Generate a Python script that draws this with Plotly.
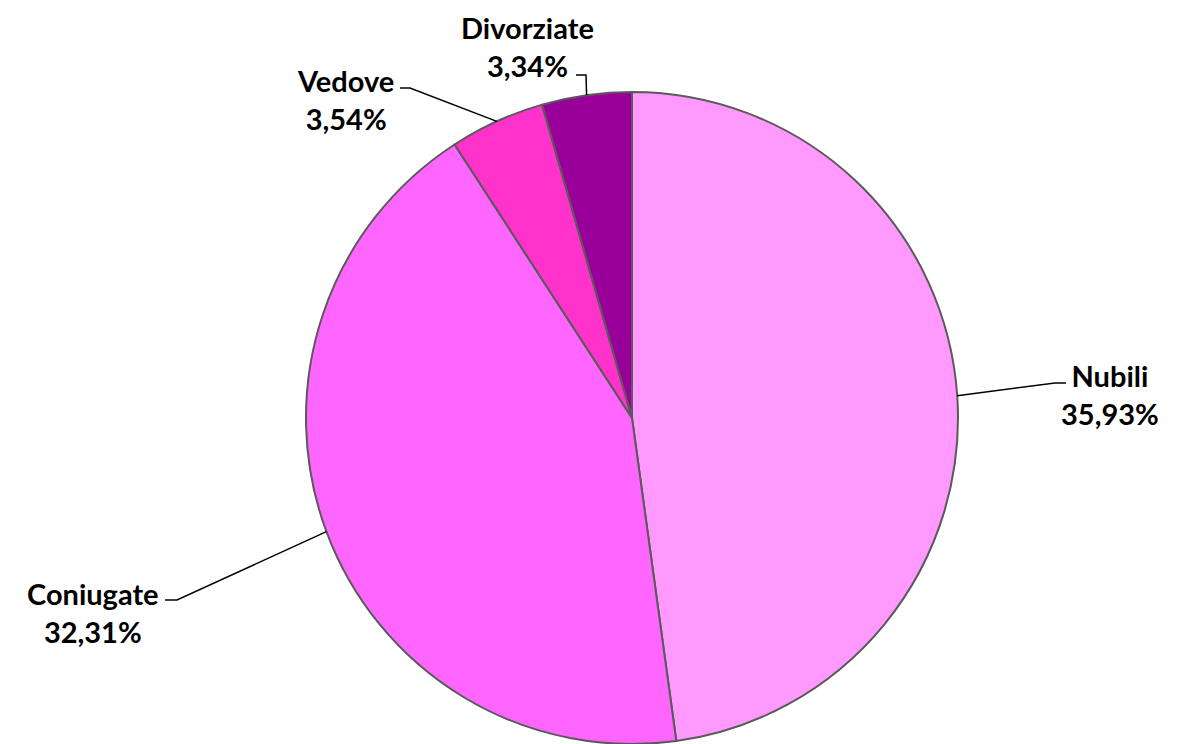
import math
import plotly.graph_objects as go

# ---- data ----
labels = ["Nubili", "Coniugate", "Vedove", "Divorziate"]
values = [35.93, 32.31, 3.54, 3.34]
value_text = ["35,93%", "32,31%", "3,54%", "3,34%"]
colors = ["#FF99FF", "#FF66FF", "#FF33CC", "#990099"]

# ---- layout constants (pixels, in the screenshot frame) ----
W, H = 1192, 744
OFF = 8  # page body margin offset
CX, CY, R = 632, 418, 326
# text centre, elbow point, end of short horizontal segment
label_pos = {
    "Nubili": dict(text=(1110, 394), elbow=(1055, 383), end=(1066, 383)),
    "Coniugate": dict(text=(93, 612), elbow=(177, 600), end=(165, 600)),
    "Vedove": dict(text=(345, 99), elbow=(410, 88), end=(400, 88)),
    "Divorziate": dict(text=(527, 47), elbow=(586, 75), end=(576, 75)),
}

def px(x):
    return (x - OFF) / W

def py(y):
    return 1 - (y - OFF) / H

fig = go.Figure(go.Pie(
    labels=labels,
    values=values,
    sort=False,
    direction="clockwise",
    rotation=0,
    textinfo="none",
    hoverinfo="label+text",
    text=value_text,
    marker=dict(colors=colors, line=dict(color="#5a5a5a", width=2)),
    domain=dict(x=[px(CX - R), px(CX + R)], y=[max(0, py(CY + R)), py(CY - R)]),
    showlegend=False,
))

total = sum(values)
cum = 0.0
shapes = []
annotations = []
for lab, v, t in zip(labels, values, value_text):
    mid = (cum + v / 2) / total * 2 * math.pi
    cum += v
    ex = CX + R * math.sin(mid)
    ey = CY - R * math.cos(mid)
    lp = label_pos[lab]
    path = "M {:.5f},{:.5f} L {:.5f},{:.5f} L {:.5f},{:.5f}".format(
        px(ex), py(ey), px(lp["elbow"][0]), py(lp["elbow"][1]),
        px(lp["end"][0]), py(lp["end"][1]))
    shapes.append(dict(type="path", path=path, xref="paper", yref="paper",
                       line=dict(color="black", width=1.5)))
    annotations.append(dict(
        x=px(lp["text"][0]), y=py(lp["text"][1]), xref="paper", yref="paper",
        text="<b>{}</b><br><b>{}</b>".format(lab, t), showarrow=False,
        xanchor="center", yanchor="middle", align="center",
        font=dict(family="Lato, Open Sans, sans-serif", size=29, color="black"),
    ))

fig.update_layout(
    width=W, height=H,
    margin=dict(l=0, r=0, t=0, b=0),
    paper_bgcolor="white",
    plot_bgcolor="white",
    shapes=shapes,
    annotations=annotations,
)

fig.write_html("out.html")
